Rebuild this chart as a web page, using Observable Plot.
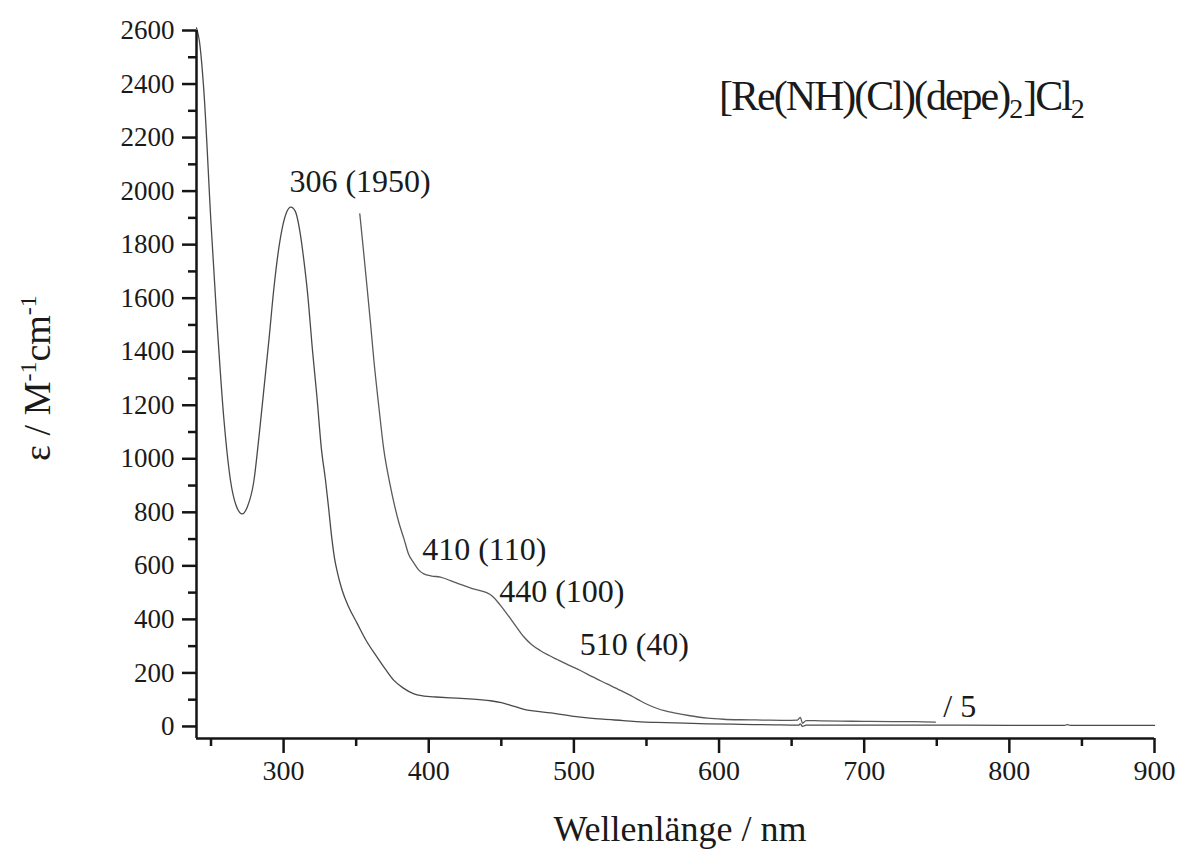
<!DOCTYPE html>
<html>
<head>
<meta charset="utf-8">
<script src="https://cdn.jsdelivr.net/npm/d3@7"></script>
<script src="https://cdn.jsdelivr.net/npm/@observablehq/plot@0.6"></script>
<style>
  body { margin: 0; background: #fff; }
  #chart svg { display: block; }
  #chart svg text, #chart svg tspan { font-family: "Liberation Serif", "Times New Roman", serif; }
</style>
</head>
<body>
<div id="chart"></div>
<script>
// Spectrum (epsilon / M^-1 cm^-1 vs wavelength / nm)
const curve1Wavelength = [240, 242, 245, 250, 254, 259, 263.5, 267, 271.5, 275, 279.5, 283, 286.5, 290, 293.3, 296, 299, 302, 305, 308, 311.5, 314, 316.5, 320, 323, 326, 328.9, 330.9, 333, 335.1, 337.1, 340.4, 344.7, 350.7, 357, 364.5, 370, 376, 382, 389.8, 395, 399, 405, 415, 425, 435, 442.6, 450, 456, 465, 472, 484, 500, 520, 534, 546, 557, 570, 592, 615, 638, 655, 656, 657.5, 660, 700, 750, 800, 838, 840, 842, 900];
const curve1Epsilon    = [2610, 2560, 2380, 1880, 1520, 1140, 916, 830, 794, 820, 916, 1080, 1264, 1450, 1636, 1760, 1860, 1920, 1940, 1925, 1840, 1740, 1620, 1400, 1230, 1040, 919, 822, 714, 628, 575, 508, 448, 385, 320, 258, 215, 172, 145, 122, 115, 112, 110, 107, 104, 100, 96, 89, 80, 65, 58, 51, 38, 27, 22, 17, 15, 13, 10, 8, 6, 5, 10, 0, 5, 5, 5, 4, 4, 7, 4, 4];

// Same spectrum magnified x5 (label "/ 5")
const curve5Wavelength = [352.5, 355, 357.6, 360, 362.2, 365.5, 369, 373.5, 376, 379.5, 383, 386, 389.8, 393, 396.6, 402, 408, 415, 421.9, 430, 437.9, 442, 444.8, 449, 454, 460, 465.5, 471, 477, 483, 488.5, 496, 504.5, 513, 522.9, 532, 541, 546, 550, 557, 563, 569, 580, 592, 603, 615, 630, 645, 654, 656, 657.5, 660, 670, 684, 700, 720, 735, 749];
const curve5Epsilon    = [1915, 1780, 1635, 1500, 1368, 1200, 1036, 900, 836, 760, 700, 645, 610, 585, 570, 562, 558, 545, 531, 515, 504, 494, 482, 455, 420, 375, 335, 305, 283, 265, 250, 230, 209, 185, 159, 135, 110, 95, 84, 68, 58, 51, 40, 31, 27, 25, 24, 23, 24, 34, 12, 22, 21, 20, 19, 18, 18, 16];

// Annotations
const bandLabels = ["306 (1950)", "410 (110)", "440 (100)", "510 (40)", "/ 5"];
const bandLabelX = [304, 395.5, 448.5, 504, 754.5];
const bandLabelY = [2034, 661, 504, 306, 75];

// Axis ticks
const yMajorTicks = d3.range(0, 2601, 200);
const yMinorTicks = d3.range(100, 2600, 200);
const xMajorTicks = [300, 400, 500, 600, 700, 800, 900];
const xMinorTicks = [250, 350, 450, 550, 650, 750, 850];

const curve1 = curve1Wavelength.map((x, i) => ({x, y: curve1Epsilon[i]}));
const curve5 = curve5Wavelength.map((x, i) => ({x, y: curve5Epsilon[i]}));
const labels = bandLabels.map((t, i) => ({t, x: bandLabelX[i], y: bandLabelY[i]}));

const fam = "'Liberation Serif', 'Times New Roman', serif";
const axisColor = "#151515";
const plot = Plot.plot({
  width: 1181,
  height: 851,
  marginLeft: 196,
  marginRight: 27,
  marginTop: 30,
  marginBottom: 113,
  x: {domain: [240, 900]},
  y: {domain: [-45, 2600]},
  style: "font-family: 'Liberation Serif', 'Times New Roman', serif; background: #fff; color: #1a1a1a;",
  marks: [
    Plot.line(curve1, {x: "x", y: "y", stroke: "#4a4a4a", strokeWidth: 1.3, curve: "monotone-x"}),
    Plot.line(curve5, {x: "x", y: "y", stroke: "#5a5a5a", strokeWidth: 1.3, curve: "monotone-x"}),
    Plot.axisY(yMajorTicks, {tickSize: 14, tickPadding: 8, tickFormat: "d", fontSize: 27, stroke: axisColor, strokeWidth: 2.5, label: null}),
    Plot.axisY(yMinorTicks, {tickSize: 8, tickFormat: () => "", stroke: axisColor, strokeWidth: 2.5, label: null}),
    Plot.axisX(xMajorTicks, {tickSize: 15, tickPadding: 7, tickFormat: "d", fontSize: 28, stroke: axisColor, strokeWidth: 2.5, label: null}),
    Plot.axisX(xMinorTicks, {tickSize: 8, tickFormat: () => "", stroke: axisColor, strokeWidth: 2.5, label: null}),
    Plot.ruleX([240], {stroke: axisColor, strokeWidth: 2.5}),
    Plot.ruleY([-45], {stroke: axisColor, strokeWidth: 2.5}),
    Plot.text(labels, {x: "x", y: "y", text: "t", textAnchor: "start", fontSize: 32, fill: "#1a1a1a"})
  ]
});

document.getElementById("chart").appendChild(plot);

const svg = d3.select(plot);
svg.style("font-family", fam);

// Compound title with subscripts
const title = svg.append("text")
  .attr("x", 719).attr("y", 110)
  .attr("text-anchor", "start")
  .style("font-family", fam).attr("font-size", 42).attr("fill", "#1a1a1a")
  .attr("letter-spacing", -2);
title.append("tspan").text("[Re(NH)(Cl)(depe)");
title.append("tspan").attr("dy", 8).attr("font-size", 28).attr("letter-spacing", 0).text("2");
title.append("tspan").attr("dy", -8).text("]Cl");
title.append("tspan").attr("dy", 8).attr("font-size", 28).attr("letter-spacing", 0).text("2");

// Y axis label
const ylab = svg.append("text")
  .attr("transform", "translate(50,378) rotate(-90)")
  .attr("text-anchor", "middle")
  .style("font-family", fam).attr("font-size", 38).attr("fill", "#1a1a1a");
ylab.append("tspan").text("ε / M");
ylab.append("tspan").attr("dy", -14).attr("font-size", 24).text("-1");
ylab.append("tspan").attr("dy", 14).text("cm");
ylab.append("tspan").attr("dy", -14).attr("font-size", 24).text("-1");

// X axis label
svg.append("text")
  .attr("x", 680).attr("y", 841)
  .attr("text-anchor", "middle")
  .style("font-family", fam).attr("font-size", 36).attr("fill", "#1a1a1a")
  .text("Wellenlänge / nm");
</script>
</body>
</html>
